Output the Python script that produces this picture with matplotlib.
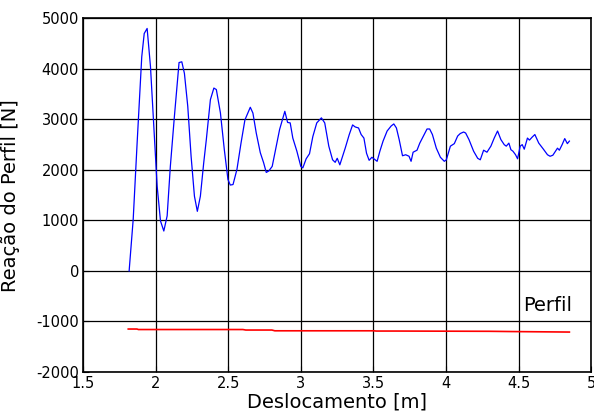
import matplotlib.pyplot as plt

plt.rcParams['font.family'] = ['DejaVu Sans']
plt.rcParams['axes.unicode_minus'] = False

# blue curve: reaction force vs displacement
desloc = [1.816, 1.844, 1.871, 1.903, 1.92, 1.94, 1.963, 1.986, 2.009, 2.032,
          2.055, 2.078, 2.10, 2.128, 2.16, 2.179, 2.197, 2.22, 2.243, 2.266,
          2.286, 2.307, 2.33, 2.348, 2.376, 2.40, 2.417, 2.445, 2.472, 2.497,
          2.513, 2.532, 2.559, 2.587, 2.614, 2.651, 2.669, 2.692, 2.72, 2.743,
          2.761, 2.779, 2.802, 2.825, 2.853, 2.889, 2.908, 2.926, 2.944, 2.972,
          2.999, 3.013, 3.036, 3.059, 3.082, 3.109, 3.141, 3.164, 3.192, 3.218,
          3.236, 3.25, 3.268, 3.305, 3.333, 3.356, 3.374, 3.397, 3.415, 3.434,
          3.452, 3.47, 3.489, 3.507, 3.525, 3.544, 3.566, 3.594, 3.622, 3.64,
          3.658, 3.677, 3.70, 3.722, 3.745, 3.759, 3.773, 3.80, 3.819, 3.846,
          3.869, 3.887, 3.906, 3.933, 3.961, 3.988, 4.002, 4.03, 4.057, 4.08,
          4.098, 4.121, 4.135, 4.158, 4.19, 4.218, 4.236, 4.259, 4.282, 4.309,
          4.332, 4.355, 4.378, 4.401, 4.415, 4.433, 4.447, 4.461, 4.479, 4.493,
          4.511, 4.525, 4.539, 4.561, 4.575, 4.594, 4.612, 4.639, 4.671, 4.699,
          4.717, 4.736, 4.754, 4.768, 4.781, 4.80, 4.818, 4.836, 4.85]
reacao = [0, 1020, 2530, 4240, 4700, 4800, 4050, 2860, 1680, 990,
          790, 1090, 2070, 3060, 4125, 4140, 3910, 3260, 2270, 1480,
          1180, 1480, 2140, 2600, 3390, 3620, 3590, 3130, 2400, 1810,
          1700, 1710, 2010, 2530, 2990, 3240, 3125, 2730, 2340, 2140,
          1950, 1980, 2070, 2400, 2800, 3160, 2940, 2930, 2630, 2370,
          2070, 2040, 2220, 2320, 2660, 2930, 3030, 2930, 2470, 2200,
          2150, 2230, 2100, 2430, 2700, 2890, 2850, 2830, 2700, 2630,
          2330, 2190, 2250, 2210, 2170, 2370, 2570, 2770, 2870, 2910,
          2830, 2600, 2280, 2300, 2270, 2170, 2350, 2390, 2530, 2680,
          2810, 2810, 2700, 2430, 2250, 2170, 2200, 2470, 2520, 2670,
          2720, 2750, 2730, 2600, 2370, 2230, 2200, 2390, 2350, 2470,
          2630, 2770, 2600, 2500, 2470, 2530, 2400, 2370, 2300, 2220,
          2470, 2500, 2410, 2630, 2590, 2650, 2700, 2530, 2410, 2300,
          2270, 2290, 2370, 2430, 2390, 2500, 2620, 2520, 2570]

# red curve: profile
perfil_x = [1.81, 1.87, 1.88, 2.60, 2.62, 2.80, 2.82, 3.50, 3.52, 3.65, 4.30, 4.45, 4.85]
perfil_y = [-1150, -1150, -1160, -1160, -1170, -1170, -1185, -1185, -1190, -1190, -1195, -1200, -1210]

xticks = [1.5, 2, 2.5, 3, 3.5, 4, 4.5, 5]
xticklabels = ['1.5', '2', '2.5', '3', '3.5', '4', '4.5', '5']
yticks = [-2000, -1000, 0, 1000, 2000, 3000, 4000, 5000]

fig = plt.figure(figsize=(5.94, 4.17), dpi=100)
ax = fig.add_axes([0.1402, 0.108, 0.855, 0.848])

ax.plot(desloc, reacao, color='blue', lw=0.9)
ax.plot(perfil_x, perfil_y, color='red', lw=1.2)
ax.text(4.53, -800, 'Perfil', fontsize=14, ha='left', va='baseline')

ax.set_xlim(1.5, 5)
ax.set_ylim(-2000, 5000)
ax.set_xticks(xticks)
ax.set_xticklabels(xticklabels)
ax.set_yticks(yticks)
ax.grid(True, color='black', lw=0.9, ls='-')
ax.set_axisbelow(True)
ax.tick_params(direction='in', length=4, labelsize=10.5, pad=3)
for sp in ax.spines.values():
    sp.set_linewidth(1.2)

ax.set_xlabel('Deslocamento [m]', fontsize=14, labelpad=1)
ax.set_ylabel('Reação do Perfil [N]', fontsize=14)
ax.yaxis.set_label_coords(-0.125, 0.5)

fig.savefig('out.png', dpi=100)
